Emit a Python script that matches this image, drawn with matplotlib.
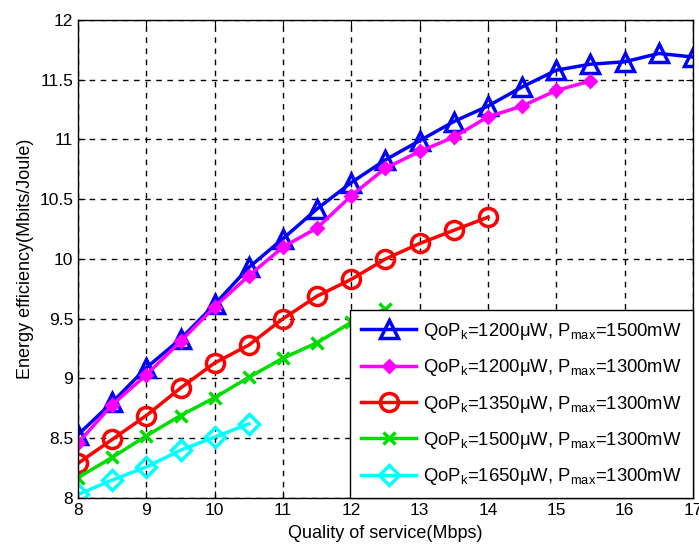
import matplotlib
matplotlib.use('Agg')
import matplotlib.pyplot as plt

plt.rcParams['font.family'] = ['Liberation Sans', 'DejaVu Sans']
plt.rcParams['mathtext.default'] = 'regular'

# x values (Mbps)
qos_a = [8, 8.5, 9, 9.5, 10, 10.5, 11, 11.5, 12, 12.5, 13, 13.5, 14, 14.5, 15, 15.5, 16, 16.5, 17]
qos_b = [8, 8.5, 9, 9.5, 10, 10.5, 11, 11.5, 12, 12.5, 13, 13.5, 14, 14.5, 15, 15.5]
qos_c = [8, 8.5, 9, 9.5, 10, 10.5, 11, 11.5, 12, 12.5, 13, 13.5, 14]
qos_d = [8, 8.5, 9, 9.5, 10, 10.5, 11, 11.5, 12, 12.5]
qos_e = [8, 8.5, 9, 9.5, 10, 10.5]

# energy efficiency (Mbits/Joule)
ee_1200_1500 = [8.53, 8.80, 9.09, 9.33, 9.62, 9.93, 10.17, 10.42, 10.64, 10.83, 10.99,
                11.15, 11.28, 11.44, 11.58, 11.63, 11.65, 11.72, 11.69]
ee_1200_1300 = [8.46, 8.78, 9.03, 9.31, 9.60, 9.86, 10.10, 10.26, 10.53, 10.76, 10.90,
                11.02, 11.19, 11.28, 11.41, 11.49]
ee_1350_1300 = [8.29, 8.49, 8.69, 8.92, 9.13, 9.28, 9.50, 9.69, 9.83, 10.00, 10.13, 10.24, 10.35]
ee_1500_1300 = [8.17, 8.34, 8.52, 8.69, 8.84, 9.01, 9.17, 9.30, 9.47, 9.58]
ee_1650_1300 = [8.03, 8.15, 8.26, 8.40, 8.51, 8.62]

labels = ['QoP$_k$=1200\u03bcW, P$_{max}$=1500mW',
          'QoP$_k$=1200\u03bcW, P$_{max}$=1300mW',
          'QoP$_k$=1350\u03bcW, P$_{max}$=1300mW',
          'QoP$_k$=1500\u03bcW, P$_{max}$=1300mW',
          'QoP$_k$=1650\u03bcW, P$_{max}$=1300mW']

fig = plt.figure(figsize=(6.99, 5.49), dpi=100)
ax = fig.add_axes([0.1116, 0.0929, 0.8798, 0.8707])

lw = 2.5
ax.plot(qos_a, ee_1200_1500, color='#0000ff', lw=lw, marker='^', ms=13, mfc='none', mew=2.5, label=labels[0])
ax.plot(qos_b, ee_1200_1300, color='#ff00ff', lw=lw, marker='D', ms=6, mew=2, label=labels[1])
ax.plot(qos_c, ee_1350_1300, color='#ff0000', lw=lw, marker='o', ms=13, mfc='none', mew=2.5, label=labels[2])
ax.plot(qos_d, ee_1500_1300, color='#00dd00', lw=lw, marker='x', ms=8, mew=2.5, label=labels[3])
ax.plot(qos_e, ee_1650_1300, color='#00ffff', lw=lw, marker='D', ms=10, mfc='none', mew=2.5, label=labels[4])

ax.set_xlim(8, 17)
ax.set_ylim(8, 12)
ax.set_xticks(range(8, 18))
ax.set_yticks([8, 8.5, 9, 9.5, 10, 10.5, 11, 11.5, 12])
ax.set_yticklabels(['8', '8.5', '9', '9.5', '10', '10.5', '11', '11.5', '12'])
ax.tick_params(direction='in', labelsize=12.5, top=True, right=True, length=5)
ax.grid(True, color='black', linestyle=(0, (4, 4)), linewidth=1)
for s in ax.spines.values():
    s.set_linewidth(1)

ax.set_xlabel('Quality of service(Mbps)', fontsize=13, labelpad=5)
ax.set_ylabel('Energy efficiency(Mbits/Joule)', fontsize=13, labelpad=4)

leg = ax.legend(loc='lower right', fontsize=13.3, borderaxespad=0, fancybox=False,
                edgecolor='black', framealpha=1, handlelength=3.0, handletextpad=0.38,
                labelspacing=0.83, borderpad=0.58)
leg.get_frame().set_linewidth(1)

fig.savefig('out.png', dpi=100)
